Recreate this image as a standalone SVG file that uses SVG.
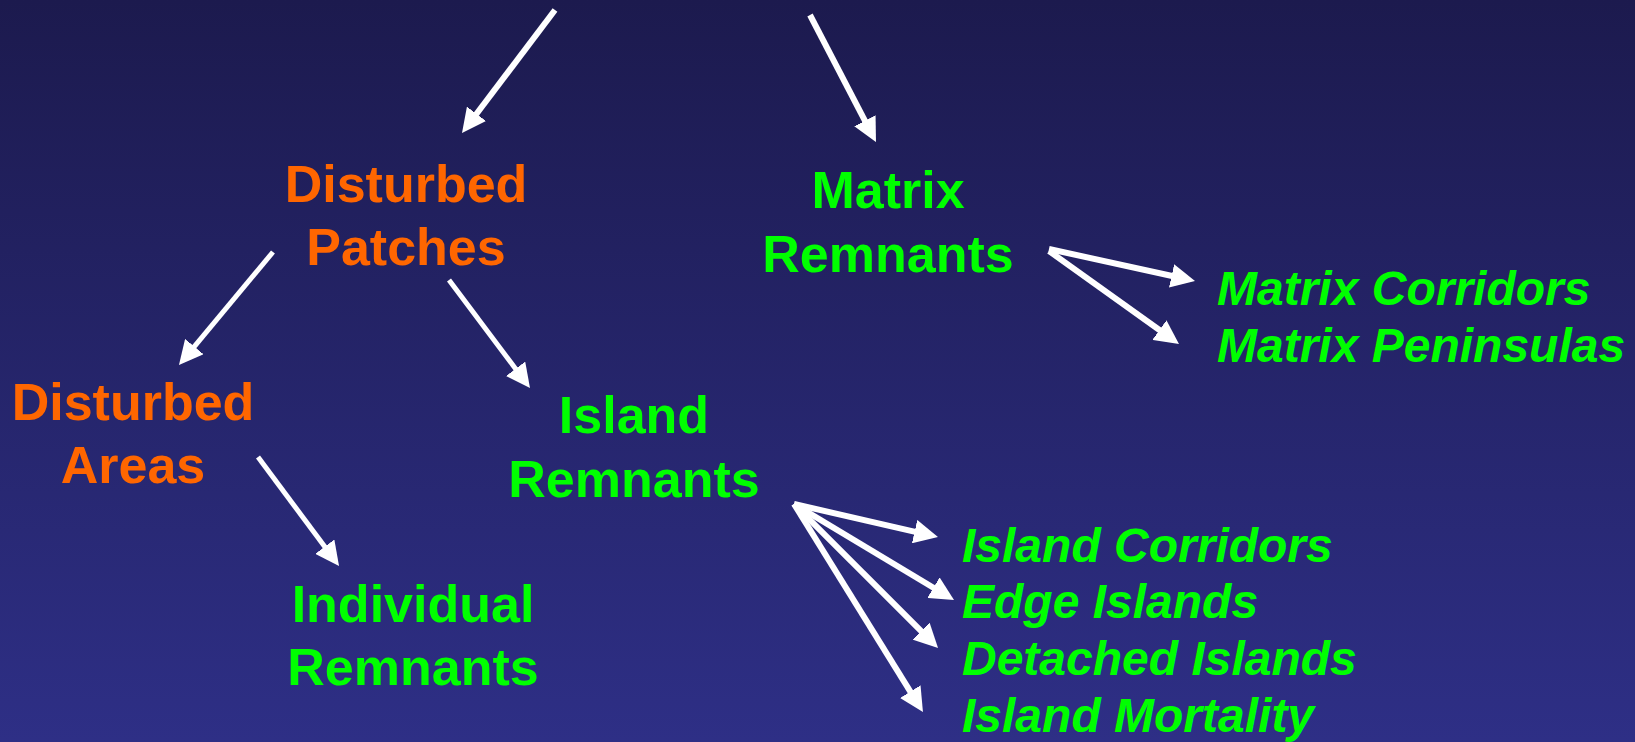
<svg xmlns="http://www.w3.org/2000/svg" width="1635" height="742" viewBox="0 0 1635 742">
  <defs>
    <linearGradient id="bg" x1="0" y1="0" x2="0" y2="1">
      <stop offset="0" stop-color="#1c1a4e"/>
      <stop offset="1" stop-color="#2e2f86"/>
    </linearGradient>
    <marker id="ah" markerUnits="userSpaceOnUse" markerWidth="24" markerHeight="24" refX="3" refY="12" orient="auto">
      <path d="M0,0 L24,12 L0,24 z" fill="#ffffff"/>
    </marker>
    <style>
      .n { font-family: "Liberation Sans", Arial, sans-serif; font-weight: bold; font-size: 52px; text-anchor: middle; }
      .it { font-family: "Liberation Sans", Arial, sans-serif; font-weight: bold; font-style: italic; font-size: 48px; fill: #00ff00; }
      .or { fill: #ff6600; }
      .gr { fill: #00ff00; }
      .c { stroke: #ffffff; stroke-width: 6; fill: none; marker-end: url(#ah); }
      .t { stroke-width: 5; }
    </style>
  </defs>
  <rect x="0" y="0" width="1635" height="742" fill="url(#bg)"/>

  <g id="connectors">
    <line class="c" x1="555" y1="10" x2="474.7" y2="116.2"/>
    <line class="c" x1="810" y1="15" x2="866.3" y2="123.4"/>
    <line class="c t" x1="273" y1="252" x2="192.4" y2="348.9"/>
    <line class="c t" x1="449" y1="280" x2="517.4" y2="371.2"/>
    <line class="c t" x1="258" y1="457" x2="326.5" y2="549.1"/>
    <line class="c" x1="1049" y1="249" x2="1174.5" y2="276.5"/>
    <line class="c" x1="1049" y1="251" x2="1161.9" y2="331.8"/>
    <line class="c" x1="794" y1="504" x2="917.5" y2="532.3"/>
    <line class="c" x1="794" y1="504" x2="936.0" y2="589.2"/>
    <line class="c" x1="794" y1="504" x2="923.2" y2="633.2"/>
    <line class="c" x1="794" y1="504" x2="911.9" y2="694.2"/>
  </g>

  <g id="disturbed-patches">
    <text class="n or" x="406" y="202">Disturbed</text>
    <text class="n or" x="406" y="265">Patches</text>
  </g>
  <g id="matrix-remnants">
    <text class="n gr" x="888" y="208">Matrix</text>
    <text class="n gr" x="888" y="272">Remnants</text>
  </g>
  <g id="disturbed-areas">
    <text class="n or" x="133" y="420">Disturbed</text>
    <text class="n or" x="133" y="483">Areas</text>
  </g>
  <g id="island-remnants">
    <text class="n gr" x="634" y="433">Island</text>
    <text class="n gr" x="634" y="497">Remnants</text>
  </g>
  <g id="individual-remnants">
    <text class="n gr" x="413" y="622">Individual</text>
    <text class="n gr" x="413" y="685">Remnants</text>
  </g>
  <g id="matrix-types">
    <text class="it" x="1217" y="305">Matrix Corridors</text>
    <text class="it" x="1217" y="362">Matrix Peninsulas</text>
  </g>
  <g id="island-types">
    <text class="it" x="962" y="562">Island Corridors</text>
    <text class="it" x="962" y="618">Edge Islands</text>
    <text class="it" x="962" y="675">Detached Islands</text>
    <text class="it" x="962" y="732">Island Mortality</text>
  </g>
</svg>
